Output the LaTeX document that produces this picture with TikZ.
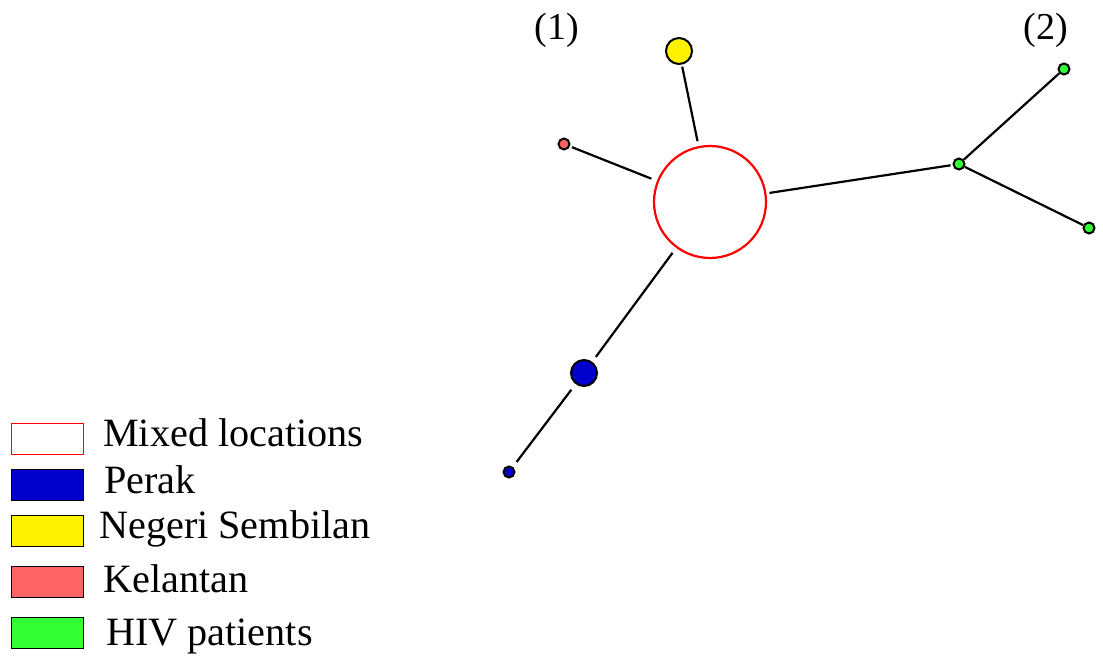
\documentclass[tikz,border=0pt]{standalone}
\usepackage{fontspec}
\setmainfont{Liberation Serif}
\begin{document}
\begin{tikzpicture}[x=1pt,y=-1pt,
  hap/.style={circle,draw=black,line width=2pt,inner sep=0pt},
  edge/.style={line width=2.2pt,black},
  lbox/.style={draw=black,line width=1.4pt,inner sep=0pt,minimum width=72pt,minimum height=31pt,anchor=north west},
  ltext/.style={anchor=base west,inner sep=0pt,font=\fontsize{40.2}{46}\selectfont},
  ttext/.style={anchor=base,inner sep=0pt,font=\fontsize{38}{43}\selectfont}]
\useasboundingbox (0,0) rectangle (1103,660);
\definecolor{perak}{RGB}{0,0,204}
\definecolor{kel}{RGB}{255,99,99}
\definecolor{hiv}{RGB}{51,255,51}
% haplotype nodes
\node[circle,draw=red,line width=2.2pt,fill=white,minimum size=112pt,inner sep=0pt] (mix) at (710,202) {};
\node[hap,fill=yellow,minimum size=26pt] (ns) at (679,51) {};
\node[hap,fill=kel,minimum size=11pt] (kl) at (564,144) {};
\node[hap,fill=perak,minimum size=26pt] (pk1) at (584,373) {};
\node[hap,fill=perak,minimum size=11pt] (pk2) at (509,472) {};
\node[hap,fill=hiv,minimum size=11pt] (g0) at (959,164) {};
\node[hap,fill=hiv,minimum size=11pt] (g1) at (1064,69) {};
\node[hap,fill=hiv,minimum size=11pt] (g2) at (1089,228) {};
% edges
\draw[edge,shorten <=5pt,shorten >=2pt] (mix) -- (ns);
\draw[edge,shorten <=6pt,shorten >=2pt] (mix) -- (kl);
\draw[edge,shorten <=3pt,shorten >=2pt] (mix) -- (g0);
\draw[edge,shorten <=6pt,shorten >=6pt] (mix) -- (pk1);
\draw[edge,shorten <=7pt,shorten >=6pt] (pk1) -- (pk2);
\draw[edge] (g0) -- (g1);
\draw[edge] (g0) -- (g2);
% cluster labels
\node[ttext] (c1) at (557,40) {(1)};
\node[ttext] (c2) at (1046,40) {(2)};
% legend
\node[lbox,draw=red,fill=white] (b1) at (11,423) {};
\node[lbox,fill=perak] (b2) at (11,469) {};
\node[lbox,fill=yellow] (b3) at (11,515) {};
\node[lbox,fill=kel] (b4) at (11,566) {};
\node[lbox,fill=hiv] (b5) at (11,617) {};
\node[ltext] (t1) at (103,446) {Mixed locations};
\node[ltext] (t2) at (104,493) {Perak};
\node[ltext] (t3) at (99,538) {Negeri Sembilan};
\node[ltext] (t4) at (103,592) {Kelantan};
\node[ltext] (t5) at (106,645) {HIV patients};
\end{tikzpicture}
\end{document}
